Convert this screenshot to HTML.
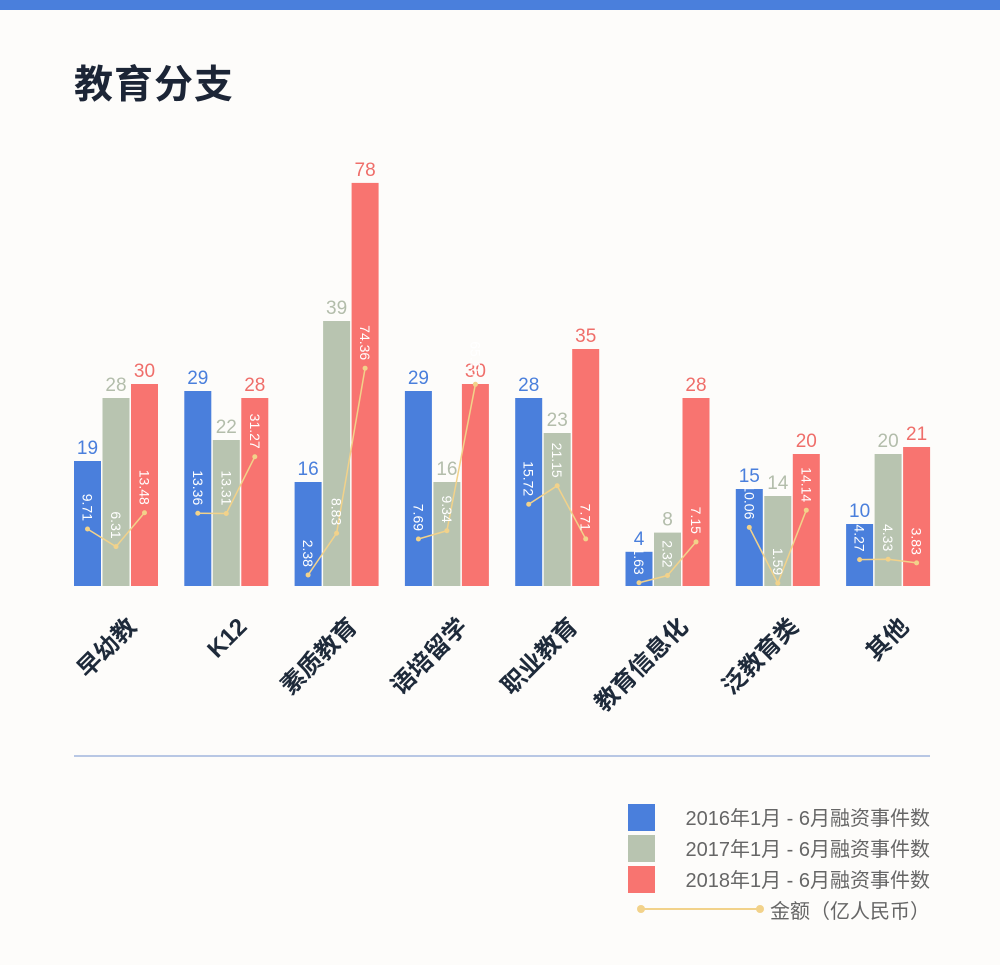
<!DOCTYPE html>
<html><head><meta charset="utf-8">
<style>
body{margin:0;background:#fdfcfa;}
#wrap{position:relative;width:1000px;height:965px;overflow:hidden;background:#fdfcfa;font-family:"Liberation Sans","Noto Sans CJK SC",sans-serif;}
</style></head>
<body>
<div id="wrap">
<div style="position:absolute;left:0;top:0;width:1000px;height:10px;background:#4a7fdc"></div>
<div style="position:absolute;left:74px;top:54px;font-size:39px;font-weight:bold;color:#1c2536;font-family:'Noto Sans CJK SC',sans-serif;letter-spacing:1px">教育分支</div>
<svg id="chart" width="1000" height="965" style="position:absolute;left:0;top:0"></svg>
</div>
<script>
const categories=["早幼教","K12","素质教育","语培留学","职业教育","教育信息化","泛教育类","其他"];
const counts2016=[19,29,16,29,28,4,15,10];
const counts2017=[28,22,39,16,23,8,14,20];
const counts2018=[30,28,78,30,35,28,20,21];
const amt2016=[9.71,13.36,2.38,7.69,15.72,1.63,10.06,4.27];
const amt2017=[6.31,13.31,8.83,9.34,21.15,2.32,1.59,4.33];
const amt2018=[13.48,31.27,74.36,65.15,7.71,7.15,14.14,3.83];
const legendLabels=["2016年1月 - 6月融资事件数","2017年1月 - 6月融资事件数","2018年1月 - 6月融资事件数","金额（亿人民币）"];

const NS="http://www.w3.org/2000/svg";
const svg=document.getElementById('chart');
const base=586, x0=74, pitch=110.3, bw=27, gap=1.5;
const colors=["#4a7fdc","#b8c4b0","#f87470"];
const txtColors=["#4a7fdc","#b3bdab","#ef6e6a"];
const lineColor="#f2d28a";
function hScale(v){
  if(v<10) return 4.8*v+15;
  if(v<=40) return 7*v-8;
  return 272+(v-40)*3.45;
}
function yAmt(v){return Math.min(base-2,620-29.2*Math.sqrt(Math.max(v,0)));}
function xBar(i,s){return x0+i*pitch+s*(bw+gap);}
function mk(tag,attrs){const e=document.createElementNS(NS,tag);for(const k in attrs)e.setAttribute(k,attrs[k]);svg.appendChild(e);return e;}
const series=[counts2016,counts2017,counts2018];
const amts=[amt2016,amt2017,amt2018];
categories.forEach((c,i)=>{
  series.forEach((arr,s)=>{
    const h=hScale(arr[i]);const x=xBar(i,s);
    const r=mk('rect',{x:x,y:base-h,width:bw,height:h,fill:colors[s]});
    
    
    const t=mk('text',{x:x+bw/2,y:base-h-7,'text-anchor':'middle','font-size':19,fill:txtColors[s]});
    t.textContent=arr[i];
    
    
  });
  const pts=amts.map((a,s)=>[xBar(i,s)+bw/2,yAmt(a[i])]);
  const pl=mk('polyline',{points:pts.map(p=>p.join(',')).join(' '),fill:'none',stroke:lineColor,'stroke-width':1.5});
  
  
  pts.forEach((p,s)=>{
    const d=mk('circle',{cx:p[0],cy:p[1],r:2.5,fill:lineColor});
    
    
    const t=mk('text',{x:0,y:0,'text-anchor':'end','font-size':14,fill:'#fff',transform:'translate('+(p[0]-5)+','+(p[1]-8)+') rotate(90)'});
    t.textContent=amts[s][i].toFixed(2);
    
    
  });
  const cx=x0+i*pitch+42+26;
  const ct=mk('text',{x:0,y:0,'text-anchor':'end','font-size':24,fill:'#1e2a3a','font-weight':'bold',transform:'translate('+(cx-4)+',628) rotate(-45)'});
  ct.textContent=c;
  
  
});
const hl=mk('line',{x1:74,y1:756,x2:930,y2:756,stroke:'#8fa7d6','stroke-width':1.2});


legendLabels.forEach((l,k)=>{
  const y=804+k*31;
  if(k<3){
    const r=mk('rect',{x:628,y:y,width:27,height:27,fill:colors[k]});
    
    
  }else{
    const ln=mk('line',{x1:641,y1:909,x2:760,y2:909,stroke:lineColor,'stroke-width':2});
    
    
    [641,760].forEach(x=>{const c=mk('circle',{cx:x,cy:909,r:4,fill:lineColor});
      
      });
  }
  const t=mk('text',{x:930,y:y+21,'text-anchor':'end','font-size':20,fill:'#666'});
  t.textContent=l;
  
  
});
</script>
</body></html>
